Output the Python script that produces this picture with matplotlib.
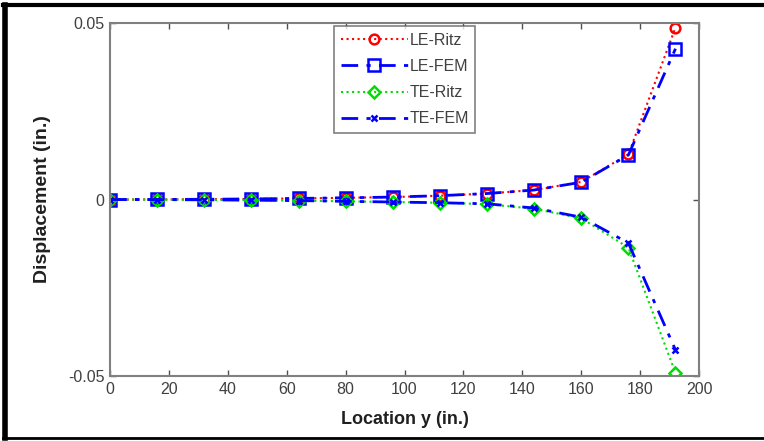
import numpy as np
import matplotlib.pyplot as plt
from matplotlib.lines import Line2D

plt.rcParams['font.family'] = ['Liberation Sans', 'DejaVu Sans']

# Data
y_loc = [0, 16, 32, 48, 64, 80, 96, 112, 128, 144, 160, 176, 192]
le_ritz = [0, 0.00002, 0.00008, 0.00018, 0.00032, 0.0005, 0.0007, 0.0011, 0.0017, 0.0027, 0.0050, 0.0128, 0.0487]
le_fem = [0, 0.00002, 0.00008, 0.00018, 0.00032, 0.0005, 0.0007, 0.0011, 0.0017, 0.0027, 0.0049, 0.0126, 0.0427]
te_ritz = [0, -0.00002, -0.00008, -0.00018, -0.00030, -0.0005, -0.0007, -0.0009, -0.0013, -0.0026, -0.0053, -0.0136, -0.0491]
te_fem = [0, -0.00002, -0.00008, -0.00018, -0.00030, -0.0005, -0.0007, -0.0009, -0.0012, -0.0024, -0.0050, -0.0123, -0.0426]

x_ticks = [0, 20, 40, 60, 80, 100, 120, 140, 160, 180, 200]
y_ticks = [-0.05, 0, 0.05]
y_tick_labels = ["-0.05", "0", "0.05"]

fig = plt.figure(figsize=(7.64, 4.41), dpi=100)
ax = fig.add_axes([0.144, 0.147, 0.771, 0.801])

ax.plot(y_loc, le_ritz, color='#ff0000', linestyle=':', lw=1.5, marker='o',
        ms=7, mfc='none', mew=1.8, label='LE-Ritz')
ax.plot(y_loc, le_fem, color='#0000ff', linestyle='-.', lw=2, marker='s',
        ms=8, mfc='none', mew=1.8, label='LE-FEM', dashes=(6, 3, 1.5, 3))
ax.plot(y_loc, te_ritz, color='#00dd00', linestyle=':', lw=1.5, marker='D',
        ms=6.5, mfc='none', mew=1.8, label='TE-Ritz')
ax.plot(y_loc, te_fem, color='#0000ff', linestyle='-.', lw=2, marker='x',
        ms=5, mew=1.8, label='TE-FEM', dashes=(6, 3, 1.5, 3))

ax.set_xlim(0, 200)
ax.set_ylim(-0.05, 0.05)
ax.set_xticks(x_ticks)
ax.set_yticks(y_ticks)
ax.set_yticklabels(y_tick_labels)
ax.tick_params(direction='in', top=True, right=True, length=4, width=1,
               colors='#505050', labelsize=11.5, labelcolor='#404040', pad=4)
for s in ax.spines.values():
    s.set_color('#808080')
    s.set_linewidth(1.5)

ax.set_xlabel('Location y (in.)', fontsize=13, fontweight='bold', color='#202020', labelpad=10)
ax.set_ylabel('Displacement (in.)', fontsize=14, fontweight='bold', color='#202020', labelpad=12)

leg = ax.legend(loc='upper left', bbox_to_anchor=(0.381, 0.99), fontsize=11.5,
                frameon=True, fancybox=False, borderpad=0.4, labelspacing=0.7,
                handlelength=4.2, handletextpad=0.1, borderaxespad=0)
leg.get_frame().set_edgecolor('#606060')
leg.get_frame().set_linewidth(1.2)
for t in leg.get_texts():
    t.set_color('#404040')

# black frame around the picture (top, left, bottom)
fig.add_artist(Line2D([0.004, 1.0], [0.989, 0.989], color='black', lw=3, transform=fig.transFigure))
fig.add_artist(Line2D([0.006, 0.006], [0.006, 0.989], color='black', lw=4, transform=fig.transFigure))
fig.add_artist(Line2D([0.004, 1.0], [0.006, 0.006], color='black', lw=2, transform=fig.transFigure))

fig.savefig('out.png', dpi=100)
